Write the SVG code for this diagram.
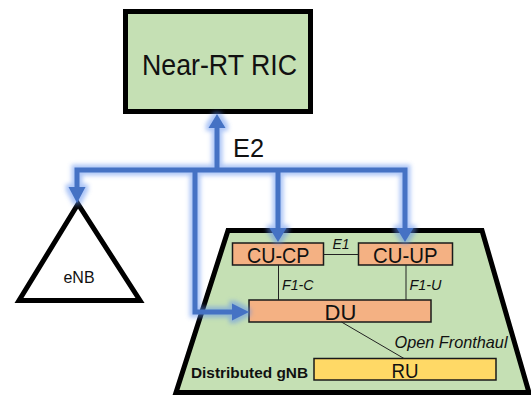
<svg xmlns="http://www.w3.org/2000/svg" width="531" height="395" viewBox="0 0 531 395">
  <defs>
    <!-- soft blue halo around the E2 connectors -->
    <filter id="glow" x="-20%" y="-20%" width="140%" height="140%">
      <feMorphology in="SourceAlpha" operator="dilate" radius="2.5" result="thick"/>
      <feGaussianBlur in="thick" stdDeviation="2" result="soft"/>
      <feFlood flood-color="#5B8DEF" flood-opacity="0.5"/>
      <feComposite in2="soft" operator="in" result="halo"/>
      <feMerge>
        <feMergeNode in="halo"/>
        <feMergeNode in="SourceGraphic"/>
      </feMerge>
    </filter>
  </defs>
  <style>
    text { font-family: "Liberation Sans", Arial, sans-serif; fill: #111; }
    .box { stroke: #1a1a1a; stroke-width: 1.5; }
    .cu { fill: #F4B183; }
    .ru { fill: #FFD966; }
    .bus { fill: none; stroke: #4472C4; stroke-width: 5; stroke-linejoin: miter; }
    .head { fill: #4472C4; }
    .thin { stroke: #222; stroke-width: 1; fill: none; }
    .it { font-style: italic; }
  </style>

  <rect width="531" height="395" fill="#ffffff"/>

  <!-- Near-RT RIC -->
  <g id="ric">
    <rect x="125.5" y="11.5" width="185" height="100" fill="#C5E0B4" stroke="#000" stroke-width="5"/>
    <text x="142" y="75" font-size="29" textLength="155" lengthAdjust="spacingAndGlyphs">Near-RT RIC</text>
  </g>

  <!-- eNB -->
  <g id="enb">
    <polygon points="78,204 19,300.5 140,300.5" fill="#ffffff" stroke="#000" stroke-width="5" stroke-linejoin="miter"/>
    <text x="79" y="283" font-size="16" text-anchor="middle">eNB</text>
  </g>

  <!-- Distributed gNB enclosure -->
  <g id="gnb">
    <polygon points="228,230.5 482,230.5 529,392.5 176,392.5" fill="#C5E0B4" stroke="#000" stroke-width="5" stroke-linejoin="miter"/>
    <text x="191" y="378" font-size="15.5" font-weight="bold" textLength="117" lengthAdjust="spacingAndGlyphs">Distributed gNB</text>
  </g>

  <g id="cu-cp">
    <rect class="box cu" x="232.5" y="243" width="91" height="22"/>
    <text x="247" y="262.5" font-size="22" textLength="62.5" lengthAdjust="spacingAndGlyphs">CU-CP</text>
  </g>

  <g id="cu-up">
    <rect class="box cu" x="358.5" y="243" width="94" height="22"/>
    <text x="373" y="262.5" font-size="22" textLength="64.5" lengthAdjust="spacingAndGlyphs">CU-UP</text>
  </g>

  <g id="du">
    <rect class="box cu" x="249" y="300" width="182" height="22"/>
    <text x="340.5" y="319.5" font-size="22" text-anchor="middle">DU</text>
  </g>

  <g id="ru">
    <rect class="box ru" x="314" y="358.5" width="182" height="21.5"/>
    <text x="391.5" y="377.5" font-size="21" textLength="27" lengthAdjust="spacingAndGlyphs">RU</text>
  </g>

  <!-- connectors -->
  <g id="connectors">
    <!-- internal gNB interfaces -->
    <line class="thin" x1="323.5" y1="254.5" x2="358.5" y2="254.5"/>
    <line class="thin" x1="278.5" y1="265" x2="278.5" y2="300"/>
    <line class="thin" x1="406" y1="265" x2="406" y2="300"/>
    <line class="thin" x1="341.5" y1="322" x2="404" y2="358.5"/>
    <text class="it" x="341" y="248.5" font-size="14" text-anchor="middle">E1</text>
    <text class="it" x="282" y="289.5" font-size="14.5" textLength="31.5" lengthAdjust="spacingAndGlyphs">F1-C</text>
    <text class="it" x="409.5" y="289.5" font-size="14.5" textLength="32" lengthAdjust="spacingAndGlyphs">F1-U</text>
    <text class="it" x="394.5" y="347.5" font-size="16.5" textLength="113" lengthAdjust="spacingAndGlyphs">Open Fronthaul</text>

    <!-- E2 distribution with glow -->
    <g filter="url(#glow)">
      <line class="bus" x1="217" y1="170" x2="217" y2="126"/>
      <polygon class="head" points="217,114 208.5,128 225.5,128"/>
      <polyline class="bus" points="77,189 77,170 405,170 405,230"/>
      <polygon class="head" points="77,203 68.5,187 85.5,187"/>
      <polygon class="head" points="405,242 396.5,228 413.5,228"/>
      <line class="bus" x1="278" y1="170" x2="278" y2="230"/>
      <polygon class="head" points="278,242 269.5,228 286.5,228"/>
      <polyline class="bus" points="195,170 195,312 234,312"/>
      <polygon class="head" points="249,312 232,303.5 232,320.5"/>
    </g>
    <text x="233" y="157" font-size="25" textLength="31" lengthAdjust="spacingAndGlyphs">E2</text>
  </g>
</svg>
